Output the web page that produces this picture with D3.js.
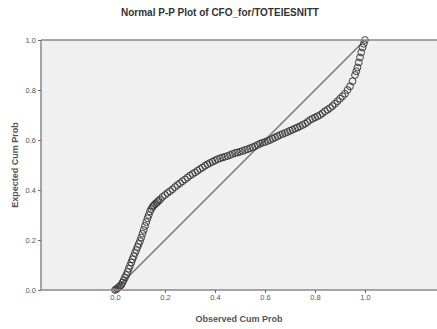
<!DOCTYPE html>
<html><head><meta charset="utf-8">
<script src="https://cdn.jsdelivr.net/npm/d3@7"></script>
<style>body{margin:0;background:#fff;}svg{display:block;font-family:"Liberation Sans",Arial,sans-serif;}</style>
</head><body>
<svg id="c" width="437" height="329"></svg>
<script>
const title = "Normal P-P Plot of CFO_for/TOTEIESNITT";
const xLabel = "Observed Cum Prob";
const yLabel = "Expected Cum Prob";
const xTicks = [0.0, 0.2, 0.4, 0.6, 0.8, 1.0];
const yTicks = [0.0, 0.2, 0.4, 0.6, 0.8, 1.0];
const observed = [
  0.00,0.005,0.01,0.015,0.02,0.025,0.03,0.035,0.04,0.045,0.05,0.055,0.06,0.065,0.07,0.075,0.08,0.085,0.09,0.095,
  0.10,0.105,0.11,0.115,0.12,0.125,0.13,0.135,0.14,0.145,0.15,0.155,0.16,0.165,0.17,0.175,0.18,0.19,0.20,0.21,
  0.22,0.23,0.24,0.25,0.26,0.27,0.28,0.29,0.30,0.31,0.32,0.33,0.34,0.35,0.36,0.37,0.38,0.39,0.40,0.41,
  0.42,0.43,0.44,0.45,0.46,0.47,0.48,0.49,0.50,0.51,0.52,0.53,0.54,0.55,0.56,0.57,0.58,0.59,0.60,0.61,
  0.62,0.63,0.64,0.65,0.66,0.67,0.68,0.69,0.70,0.71,0.72,0.73,0.74,0.75,0.76,0.77,0.78,0.79,0.80,0.81,
  0.82,0.83,0.84,0.85,0.86,0.87,0.88,0.89,0.90,0.91,0.92,0.93,0.94,0.95,0.96,0.965,0.97,0.975,0.98,0.985,
  0.99,0.995,1.00];
const expected = [
  0.00,0.003,0.007,0.012,0.016,0.02,0.03,0.04,0.05,0.06,0.072,0.085,0.097,0.11,0.123,0.135,0.148,0.16,0.172,0.184,
  0.196,0.21,0.225,0.24,0.256,0.272,0.287,0.30,0.314,0.324,0.332,0.338,0.343,0.348,0.352,0.357,0.362,0.372,0.38,0.388,
  0.395,0.403,0.412,0.42,0.427,0.435,0.442,0.45,0.458,0.464,0.47,0.477,0.484,0.49,0.497,0.503,0.508,0.513,0.518,0.523,
  0.527,0.530,0.533,0.536,0.54,0.544,0.548,0.55,0.553,0.556,0.56,0.563,0.567,0.571,0.575,0.58,0.585,0.589,0.592,0.596,
  0.60,0.605,0.61,0.615,0.62,0.624,0.628,0.632,0.637,0.641,0.646,0.65,0.655,0.66,0.665,0.672,0.68,0.685,0.69,0.695,
  0.70,0.707,0.715,0.721,0.728,0.736,0.745,0.755,0.765,0.775,0.785,0.80,0.815,0.835,0.86,0.875,0.89,0.91,0.93,0.95,
  0.97,0.985,1.00];

const svg = d3.select("#c");
const L = 41, R = 437, T = 40, B = 290;
// 0 -> 115px, 1 -> 365px
const x = d3.scaleLinear().domain([(L-115)/250, (R-115)/250]).range([L, R]);
const y = d3.scaleLinear().domain([0, 1]).range([B, T]);

svg.append("rect").attr("x", L).attr("y", T).attr("width", R-L).attr("height", B-T).attr("fill", "#f0f0f0");

// reference line
svg.append("line").attr("x1", x(0)).attr("y1", y(0)).attr("x2", x(1)).attr("y2", y(1))
  .attr("stroke", "#7a7a7a").attr("stroke-width", 1.6);

// points
const pts = observed.map((o, i) => [o, expected[i]]);
svg.append("g").selectAll("circle").data(pts).join("circle")
  .attr("cx", d => x(d[0])).attr("cy", d => y(d[1])).attr("r", 3.4)
  .attr("fill", "none").attr("stroke", "#3a3a3a").attr("stroke-width", 1);

// frame lines
svg.append("line").attr("x1", L).attr("x2", R).attr("y1", T).attr("y2", T).attr("stroke", "#888").attr("stroke-width", 1.5);
const xAxis = svg.append("g").attr("transform", `translate(0,${B})`)
  .call(d3.axisBottom(x).tickValues(xTicks).tickFormat(d3.format(".1f")).tickSize(3).tickPadding(2));
xAxis.select(".domain").attr("stroke", "#888").attr("stroke-width", 1.5).attr("d", `M${L},0H${R}`);
const yAxis = svg.append("g").attr("transform", `translate(${L},0)`)
  .call(d3.axisLeft(y).tickValues(yTicks).tickFormat(d3.format(".1f")).tickSize(3).tickPadding(2));
yAxis.select(".domain").attr("stroke", "#888").attr("stroke-width", 1.5).attr("d", `M0,${T}V${B}`);
svg.selectAll(".tick line").attr("stroke", "#666");
svg.selectAll(".tick text").attr("font-size", 7.5).attr("fill", "#555").attr("font-family", "Liberation Sans, Arial, sans-serif");

svg.append("text").attr("x", 220).attr("y", 16).attr("text-anchor", "middle")
  .attr("font-size", 10).attr("font-weight", "bold").attr("fill", "#333").text(title);
svg.append("text").attr("x", (L+R)/2).attr("y", 322).attr("text-anchor", "middle")
  .attr("font-size", 9).attr("font-weight", "bold").attr("fill", "#555").text(xLabel);
svg.append("text").attr("transform", `translate(18,${(T+B)/2}) rotate(-90)`).attr("text-anchor", "middle")
  .attr("font-size", 9).attr("font-weight", "bold").attr("fill", "#555").text(yLabel);
</script>
</body></html>
